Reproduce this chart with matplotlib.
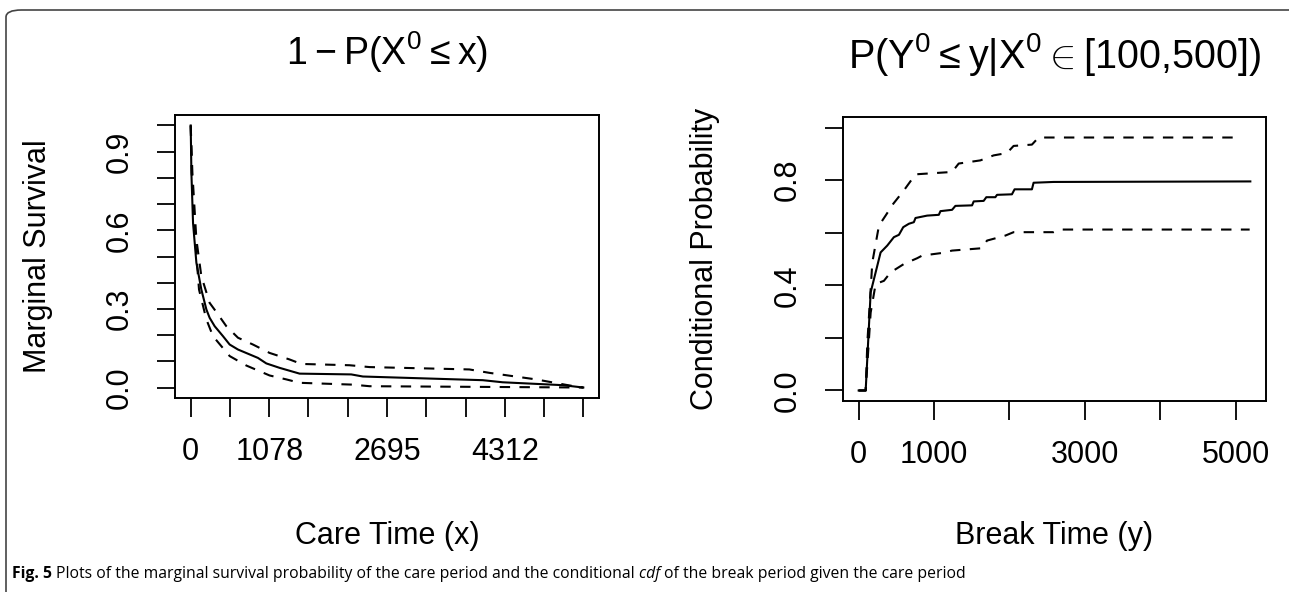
import numpy as np
import matplotlib
matplotlib.use("Agg")
import matplotlib.pyplot as plt
from matplotlib.patches import FancyBboxPatch

plt.rcParams['font.family'] = ['Liberation Sans', 'DejaVu Sans']
plt.rcParams['mathtext.fontset'] = 'custom'
plt.rcParams['mathtext.rm'] = 'Liberation Sans'

# Left panel: marginal survival of the care period
care_x = [0, 9.5, 32, 78, 146, 215, 260, 329, 443, 535, 649, 923, 1038, 1221,
          1495, 2204, 2364, 4009, 4283, 5106, 5390]
surv = [1.0, 0.819, 0.628, 0.476, 0.374, 0.298, 0.266, 0.234, 0.196, 0.164,
        0.145, 0.113, 0.092, 0.075, 0.053, 0.050, 0.042, 0.028, 0.020, 0.009, 0.0]
care_x_up = [0, 23, 78, 146, 260, 352, 489, 649, 855, 1083, 1358, 1518, 2181,
             2455, 3826, 4100, 4740, 5197, 5390]
surv_up = [1.0, 0.82, 0.565, 0.425, 0.323, 0.288, 0.234, 0.19, 0.164, 0.132,
           0.107, 0.09, 0.085, 0.078, 0.069, 0.056, 0.031, 0.008, 0.0]
care_x_lo = [0, 14, 55, 114, 215, 306, 420, 535, 763, 1083, 1312, 1495, 2226,
             2455, 5390]
surv_lo = [1.0, 0.82, 0.59, 0.374, 0.26, 0.196, 0.158, 0.12, 0.084, 0.046,
           0.031, 0.018, 0.011, 0.005, 0.0]
care_ticks = [0, 539, 1078, 1617, 2156, 2695, 3234, 3773, 4312, 4851, 5390]
care_ticklabels = ['0', '', '1078', '', '', '2695', '', '', '4312', '', '']
surv_ticks = [0.0, 0.1, 0.2, 0.3, 0.4, 0.5, 0.6, 0.7, 0.8, 0.9, 1.0]
surv_ticklabels = ['0.0', '', '', '0.3', '', '', '0.6', '', '', '0.9', '']

# Right panel: conditional cdf of the break period
break_x = [0, 93, 159, 291, 379, 467, 534, 591, 666, 732, 754, 908, 1063, 1085,
           1239, 1283, 1504, 1526, 1658, 1693, 1813, 1835, 2033, 2068, 2298,
           2320, 2584, 5195]
cond = [0, 0, 0.373, 0.525, 0.551, 0.583, 0.592, 0.621, 0.634, 0.64, 0.656,
        0.665, 0.668, 0.682, 0.687, 0.702, 0.704, 0.719, 0.721, 0.735, 0.735,
        0.744, 0.746, 0.765, 0.765, 0.79, 0.793, 0.795]
break_x_up = [0, 93, 115, 181, 269, 357, 459, 600, 754, 1239, 1327, 1614, 1790,
              1967, 2055, 2298, 2386, 5076]
cond_up = [0, 0, 0.182, 0.487, 0.627, 0.665, 0.71, 0.761, 0.822, 0.831, 0.863,
           0.875, 0.894, 0.903, 0.93, 0.935, 0.962, 0.962]
break_x_lo = [0, 93, 159, 225, 335, 423, 600, 776, 842, 1107, 1239, 1636, 1702,
              1945, 2055, 2584, 2672, 5186]
cond_lo = [0, 0, 0.296, 0.405, 0.417, 0.449, 0.481, 0.503, 0.513, 0.523,
           0.532, 0.541, 0.57, 0.589, 0.602, 0.602, 0.612, 0.612]
break_ticks = [0, 1000, 2000, 3000, 4000, 5000]
break_ticklabels = ['0', '1000', '', '3000', '', '5000']
cond_ticks = [0.0, 0.2, 0.4, 0.6, 0.8, 1.0]
cond_ticklabels = ['0.0', '', '0.4', '', '0.8', '']

W, H = 1289, 592
fig = plt.figure(figsize=(W / 100, H / 100), dpi=100)

def px_axes(x0, y0, x1, y1):
    return fig.add_axes([x0 / W, 1 - y1 / H, (x1 - x0) / W, (y1 - y0) / H])

ax1 = px_axes(175, 115, 599, 398)
ax2 = px_axes(843, 117, 1266, 401)

dash = (0, (5, 4.5))
ax1.plot(care_x, surv, color='black', lw=1.5)
ax1.plot(care_x_up, surv_up, color='black', lw=1.5, linestyle=dash)
ax1.plot(care_x_lo, surv_lo, color='black', lw=1.5, linestyle=dash)
ax2.plot(break_x, cond, color='black', lw=1.5)
ax2.plot(break_x_up, cond_up, color='black', lw=1.5, linestyle=dash)
ax2.plot(break_x_lo, cond_lo, color='black', lw=1.5, linestyle=dash)

def r_limits(ax, xs, ys):
    xr = max(xs) - min(xs)
    yr = max(ys) - min(ys)
    ax.set_xlim(min(xs) - 0.04 * xr, max(xs) + 0.04 * xr)
    ax.set_ylim(min(ys) - 0.04 * yr, max(ys) + 0.04 * yr)

r_limits(ax1, care_x, surv)
r_limits(ax2, break_x, [0, 1])

for ax, xt, xl, yt, yl in [(ax1, care_ticks, care_ticklabels, surv_ticks, surv_ticklabels),
                           (ax2, break_ticks, break_ticklabels, cond_ticks, cond_ticklabels)]:
    ax.set_xticks(xt)
    ax.set_xticklabels(xl)
    ax.set_yticks(yt)
    ax.set_yticklabels(yl, rotation=90, va='center')
    ax.tick_params(axis='x', length=14, width=1.3, pad=14, labelsize=22)
    ax.tick_params(axis='y', length=13, width=1.3, pad=16, labelsize=22)
    for s in ax.spines.values():
        s.set_linewidth(1.4)

ax1.set_title(r'$\mathrm{1 - P(X^0 \leq x)}$', fontsize=27, pad=0, y=1.222, va='center')
ax2.set_title(r'$\mathrm{P(Y^0 \leq y|X^0 \in [100{,}500])}$', fontsize=28.5, pad=0, y=1.22, va='center')

ax1.set_xlabel('Care Time (x)', fontsize=22, va='center')
ax1.xaxis.set_label_coords(0.5, (398 - 536) / 283)
ax2.set_xlabel('Break Time (y)', fontsize=22, va='center')
ax2.xaxis.set_label_coords(0.5, (401 - 536) / 284)
ax1.set_ylabel('Marginal Survival', fontsize=22, va='center')
ax1.yaxis.set_label_coords((38 - 175) / 424, 0.5)
ax2.set_ylabel('Conditional Probability', fontsize=22, va='center')
ax2.yaxis.set_label_coords((705 - 843) / 423, 0.5)

# figure frame and caption
frame = FancyBboxPatch((6 / W, -0.1), 1.2, 1.1 - 10 / H, boxstyle='round,pad=0,rounding_size=0.012',
                       transform=fig.transFigure, fill=False, edgecolor='#444444', lw=1.2)
fig.patches.append(frame)

caption = [('Fig. 5 ', dict(fontweight='bold')),
           ('Plots of the marginal survival probability of the care period and the conditional ', {}),
           ('cdf ', dict(fontstyle='italic')),
           ('of the break period given the care period', {})]
renderer = fig.canvas.get_renderer()
cx = 12
for s, kw in caption:
    t = fig.text(cx / W, 1 - 574 / H, s.replace(' ', '\u00a0'), family='Open Sans',
                 fontsize=11.3, va='center', ha='left', **kw)
    cx += t.get_window_extent(renderer).width

fig.savefig('out.png', dpi=100)
